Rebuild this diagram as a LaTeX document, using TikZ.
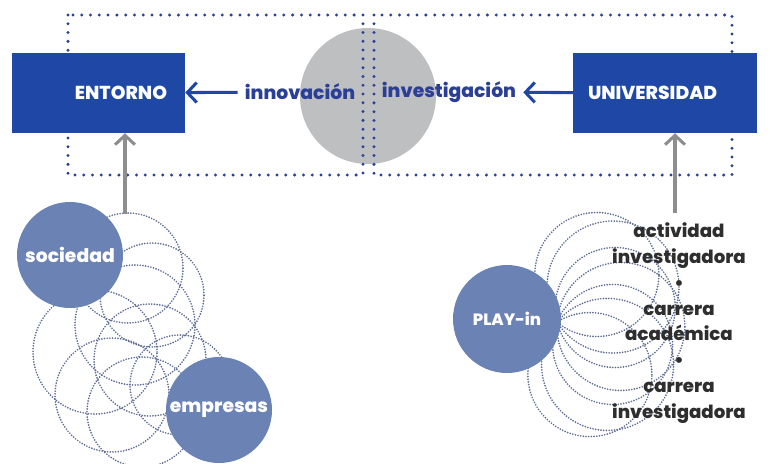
\documentclass[tikz,border=0pt]{standalone}
\usepackage{fontspec}
\setmainfont{Poppins}[BoldFont={Poppins ExtraBold}]
\usetikzlibrary{arrows.meta, positioning}

\definecolor{boxblue}{HTML}{1F48A6}
\definecolor{textblue}{HTML}{2A3F95}
\definecolor{discblue}{HTML}{6B82B4}
\definecolor{ringblue}{HTML}{5F6D94}
\definecolor{hubgray}{HTML}{BEBFC1}
\definecolor{arrowgray}{HTML}{8E8E8E}
\definecolor{listgray}{HTML}{2E2E2E}

\begin{document}
\begin{tikzpicture}[x=0.03cm, y=-0.03cm,
    mainbox/.style={fill=boxblue, text=white, minimum height=2.4cm, inner ysep=0pt,
        font=\bfseries\fontsize{16}{19}\selectfont},
    word/.style={text=textblue, inner xsep=6pt, inner ysep=1pt, font=\bfseries\fontsize{16}{19}\selectfont},
    disc/.style={circle, fill=discblue, text=white, inner sep=0pt,
        font=\bfseries\fontsize{16}{19}\selectfont},
    ringdots/.style={ringblue, line width=1.6pt, dash pattern=on 0pt off 2.3pt, line cap=round},
    bluedots/.style={textblue, line width=2.8pt, dash pattern=on 0pt off 7.5pt, line cap=round},
    bluearrow/.style={boxblue, line width=2.6pt, -{Straight Barb[length=8pt, width=17pt]}},
    grayarrow/.style={arrowgray, line width=2.6pt, -{Straight Barb[length=8pt, width=17pt]}}
]
    \useasboundingbox (0,0) rectangle (770,463);

    % centre
    \node[circle, fill=hubgray, minimum size=4.08cm] (hub) at (368,96) {};
    \draw[bluedots] (68,15) rectangle (363,175);
    \draw[bluedots] (374,15) rectangle (732,175);

    % boxes and words
    \node[mainbox, text width=4.11cm, inner xsep=0.54cm, align=right] (entorno) at (98.5,93) {ENTORNO};
    \node[mainbox, text width=4.62cm, inner xsep=0.45cm, align=left] (universidad) at (665,93) {UNIVERSIDAD};
    \node[word] (innovacion) at (300,92) {innovación};
    \node[word] (investigacion) at (449,92) {investigación};
    \draw[bluearrow] (innovacion) -- (entorno);
    \draw[bluearrow] (universidad) -- (investigacion);

    % left cluster
    \foreach \cx/\cy/\r in {128/268/55, 152/295/52, 135/325/60, 95/352/62,
                            150/360/56, 112/395/57, 142/412/55, 180/385/50}
        \draw[ringdots] (\cx,\cy) circle[radius=\r*0.03cm];
    \coordinate (sociedadtop) at (125,214);
    \draw[grayarrow] (sociedadtop) -- (sociedadtop |- entorno.south);
    \node[disc, minimum size=3.18cm] (sociedad) at (70,255) {sociedad};
    \node[disc, minimum size=3.18cm] (empresas) at (219,410) {empresas};

    % right cluster
    \foreach \a/\r in {-50/62,-32/66,-14/60,4/64,22/60,40/66,58/62}
        \draw[ringdots] (557,322) ++(\a:\r) circle[radius=\r*0.03cm];
    \coordinate (playtop) at (675,213);
    \draw[grayarrow] (playtop) -- (playtop |- universidad.south);
    \node[disc, minimum size=3.24cm, font=\bfseries\fontsize{14}{16}\selectfont] (playin) at (507,319) {PLAY-in};
    \node[text=listgray, align=center, font=\bfseries\fontsize{15.5}{22}\selectfont] (carreras) at (679,323)
        {actividad\\investigadora\\\textbullet\\carrera\\académica\\\textbullet\\carrera\\investigadora};
\end{tikzpicture}
\end{document}
